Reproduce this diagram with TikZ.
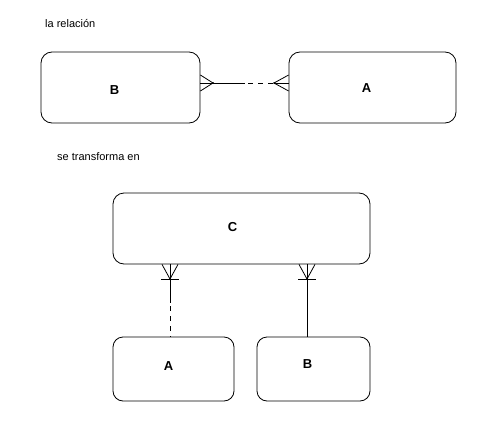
\documentclass[tikz,border=0pt]{standalone}
\usepackage{fontspec}
\setmainfont{Liberation Sans}
\usetikzlibrary{positioning,calc}

\begin{document}
\begin{tikzpicture}[x=1pt, y=-1pt,
    entity/.style={rectangle, draw, rounded corners=11pt, inner sep=0pt, line width=0.8pt},
    caption/.style={anchor=west, inner sep=0pt, font=\fontsize{11}{13}\selectfont},
    tag/.style={font=\bfseries\fontsize{13}{15}\selectfont},
    link/.style={line width=0.8pt},
    optional/.style={link, dash pattern=on 5pt off 5pt, dash phase=-3pt}
]
    \useasboundingbox (0,0) rectangle (500,420);

    \node[caption] (titleRel) at (45,24) {la relación};
    \node[caption] (titleTrans) at (57,157) {se transforma en};

    % relacion original
    \node[entity, minimum width=159pt, minimum height=71pt] (relB) at (120.5,87.5) {};
    \node[entity, minimum width=167pt, minimum height=71pt] (relA) at (372.5,87.5) {};
    \node[tag] (relBtag) at ([xshift=-6pt, yshift=-3pt]relB.center) {B};
    \node[tag] (relAtag) at ([xshift=-6pt, yshift=-1pt]relA.center) {A};

    \coordinate (footB) at (213,83);
    \coordinate (footA) at (274,83);
    \coordinate (breakTop) at (245,83);
    \foreach \dy in {-8,0,8} {
        \draw[link] (footB) -- ($(relB.east |- footB)+(0,\dy)$);
        \draw[link] (footA) -- ($(relA.west |- footA)+(0,\dy)$);
    }
    \draw[link] (footB) -- (breakTop);
    \draw[optional] (breakTop) -- (footA);
    \fill (footB) circle (1pt);
    \fill (footA) circle (1pt);

    % tabla intermedia
    \node[entity, minimum width=257pt, minimum height=71pt] (tabC) at (241.5,228.5) {};
    \node[entity, minimum width=121pt, minimum height=64pt, rounded corners=10pt] (tabA) at (173.5,369) {};
    \node[entity, minimum width=113pt, minimum height=64pt, rounded corners=10pt] (tabB) at (313.5,369) {};
    \node[tag] (tabCtag) at ([xshift=-9pt, yshift=1pt]tabC.center) {C};
    \node[tag] (tabAtag) at ([xshift=-5pt, yshift=3pt]tabA.center) {A};
    \node[tag] (tabBtag) at ([xshift=-6pt, yshift=5pt]tabB.center) {B};

    \coordinate (footCA) at (170,279);
    \coordinate (footCB) at (307,279);
    \coordinate (breakLeft) at (170,303);
    \foreach \f in {footCA,footCB} {
        \foreach \dx in {-8,0,8}
            \draw[link] (\f) -- ($(tabC.south -| \f)+(\dx,0)$);
        \draw[link] ($(\f)+(-9,0)$) -- ($(\f)+(9,0)$);
        \fill (\f) circle (1pt);
    }
    \draw[link] (footCA) -- (breakLeft);
    \draw[optional] (breakLeft) -- (tabA.north -| footCA);
    \draw[link] (footCB) -- (tabB.north -| footCB);
\end{tikzpicture}
\end{document}
